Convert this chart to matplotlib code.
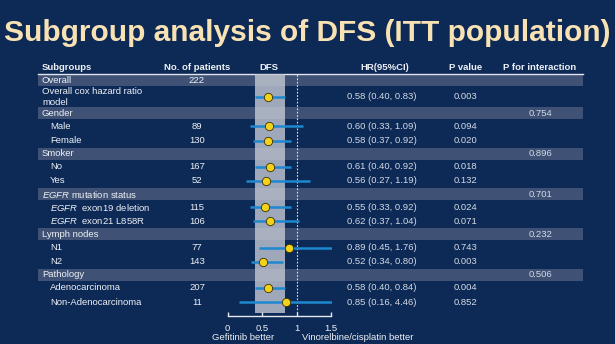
import matplotlib
matplotlib.use("Agg")
import matplotlib.pyplot as plt

plt.rcParams['font.family'] = ['Liberation Sans', 'DejaVu Sans']
plt.rcParams['mathtext.fontset'] = 'custom'
plt.rcParams['mathtext.rm'] = 'Liberation Sans'
plt.rcParams['mathtext.it'] = 'Liberation Sans:italic'

# subgroup table
subgroups = ["Overall", "Overall cox hazard ratio\nmodel", "Gender", "Male", "Female",
             "Smoker", "No", "Yes", r"$\it{EGFR}$ mutation status",
             r"$\it{EGFR}$  exon19 deletion", r"$\it{EGFR}$  exon21 L858R",
             "Lymph nodes", "N1", "N2", "Pathology", "Adenocarcinoma", "Non-Adenocarcinoma"]
is_group = [1, 0, 1, 0, 0, 1, 0, 0, 1, 0, 0, 1, 0, 0, 1, 0, 0]
indented = [0, 0, 0, 1, 1, 0, 1, 1, 0, 1, 1, 0, 1, 1, 0, 1, 1]
n_patients = ["222", "", "", "89", "130", "", "167", "52", "", "115", "106", "", "77", "143", "", "207", "11"]
hr = [None, 0.58, None, 0.60, 0.58, None, 0.61, 0.56, None, 0.55, 0.62, None, 0.89, 0.52, None, 0.58, 0.85]
ci_lo = [None, 0.40, None, 0.33, 0.37, None, 0.40, 0.27, None, 0.33, 0.37, None, 0.45, 0.34, None, 0.40, 0.16]
ci_hi = [None, 0.83, None, 1.09, 0.92, None, 0.92, 1.19, None, 0.92, 1.04, None, 1.76, 0.80, None, 0.84, 4.46]
p_value = ["", "0.003", "", "0.094", "0.020", "", "0.018", "0.132", "", "0.024", "0.071", "", "0.743", "0.003", "", "0.004", "0.852"]
p_interaction = ["", "", "0.754", "", "", "0.896", "", "", "0.701", "", "", "0.232", "", "", "0.506", "", ""]
x_ticks = [0, 0.5, 1, 1.5]

navy = '#0d2a56'
band = '#3f5275'
txt = '#eef1f6'
val = '#d4d9e4'
fs = 6.8
W, H = 615, 344

fig = plt.figure(figsize=(6.15, 3.44), dpi=100, facecolor=navy)
ax = fig.add_axes([0, 0, 1, 1])
ax.set_xlim(0, W)
ax.set_ylim(H, 0)
ax.axis('off')

fig.text(0.5, 1 - 33 / H, "Subgroup analysis of DFS (ITT population)", ha='center', va='center',
         fontsize=21.5, fontweight='bold', color='#f8e2b4')

# column headers
hy = 67
ax.text(42, hy, "Subgroups", ha='left', va='center', fontsize=fs, fontweight='bold', color=txt)
ax.text(197, hy, "No. of patients", ha='center', va='center', fontsize=fs, fontweight='bold', color=txt)
ax.text(269, hy, "DFS", ha='center', va='center', fontsize=fs, fontweight='bold', color=txt)
ax.text(385, hy, "HR(95%CI)", ha='center', va='center', fontsize=fs, fontweight='bold', color=txt)
ax.text(465.5, hy, "P value", ha='center', va='center', fontsize=fs, fontweight='bold', color=txt)
ax.text(540, hy, "P for interaction", ha='center', va='center', fontsize=fs, fontweight='bold', color=txt)
ax.plot([38, 583], [74.3, 74.3], color='#dfe4ee', lw=1, zorder=3)

# row layout
ys = []
top = 74.3
for i, lab in enumerate(subgroups):
    h = 12 if is_group[i] else (21 if "\n" in lab else 14.2)
    ys.append(top + h / 2)
    if is_group[i]:
        ax.barh(top + h / 2, 545, left=38, height=h, color=band, zorder=1)
    top += h

for i, lab in enumerate(subgroups):
    y = ys[i]
    ax.text(50 if indented[i] else 42, y, lab, ha='left', va='center', fontsize=fs,
            color=txt, linespacing=1.25)
    ax.text(197, y, n_patients[i], ha='center', va='center', fontsize=fs, color=txt)
    if hr[i] is not None:
        ax.text(382, y, f"{hr[i]:.2f} ({ci_lo[i]:.2f}, {ci_hi[i]:.2f})", ha='center', va='center',
                fontsize=fs, color=val)
    ax.text(465.5, y, p_value[i], ha='center', va='center', fontsize=fs, color=val)
    ax.text(540.5, y, p_interaction[i], ha='center', va='center', fontsize=fs, color=val)

# forest panel
px_per_unit = 69.0
x0, y_top, y_bot = 227.5, 74.3, 316
fax = fig.add_axes([x0 / W, 1 - y_bot / H, 104 / W, (y_bot - y_top) / H])
fax.set_facecolor('none')
fax.set_xlim(0, 104 / px_per_unit)
fax.set_ylim(y_bot, y_top)

fax.axvspan(ci_lo[1], ci_hi[1], ymin=0.012, ymax=1, color='#c4c8d4', alpha=0.8, lw=0, zorder=1)
fax.axvline(1, ymin=0.012, ymax=1, color='#dfe3ec', lw=0.8, ls=(0, (1.5, 1.5)), zorder=2)

for i in range(len(subgroups)):
    if hr[i] is None:
        continue
    fax.plot([ci_lo[i], ci_hi[i]], [ys[i], ys[i]], color='#1e88d0', lw=1.8, zorder=3,
             solid_capstyle='butt')
    fax.plot(hr[i], ys[i], 'o', ms=6, mfc='#f4d11a', mec='#3a3000', mew=0.6, zorder=4)

for s in ['top', 'right', 'left']:
    fax.spines[s].set_visible(False)
fax.spines['bottom'].set_color('#e6e9f0')
fax.spines['bottom'].set_linewidth(1)
fax.spines['bottom'].set_bounds(x_ticks[0], x_ticks[-1])
fax.set_yticks([])
fax.set_xticks(x_ticks)
fax.set_xticklabels(["0", "0.5", "1", "1.5"])
fax.tick_params(axis='x', direction='in', length=3, width=1, color='#e6e9f0',
                labelcolor=txt, labelsize=fs, pad=5.5)

ax.text(243, 338, "Gefitinib better", ha='center', va='center', fontsize=fs, color=txt)
ax.text(302, 338, "Vinorelbine/cisplatin better", ha='left', va='center', fontsize=fs, color=txt)

fig.savefig("out.png", dpi=100, facecolor=navy)
